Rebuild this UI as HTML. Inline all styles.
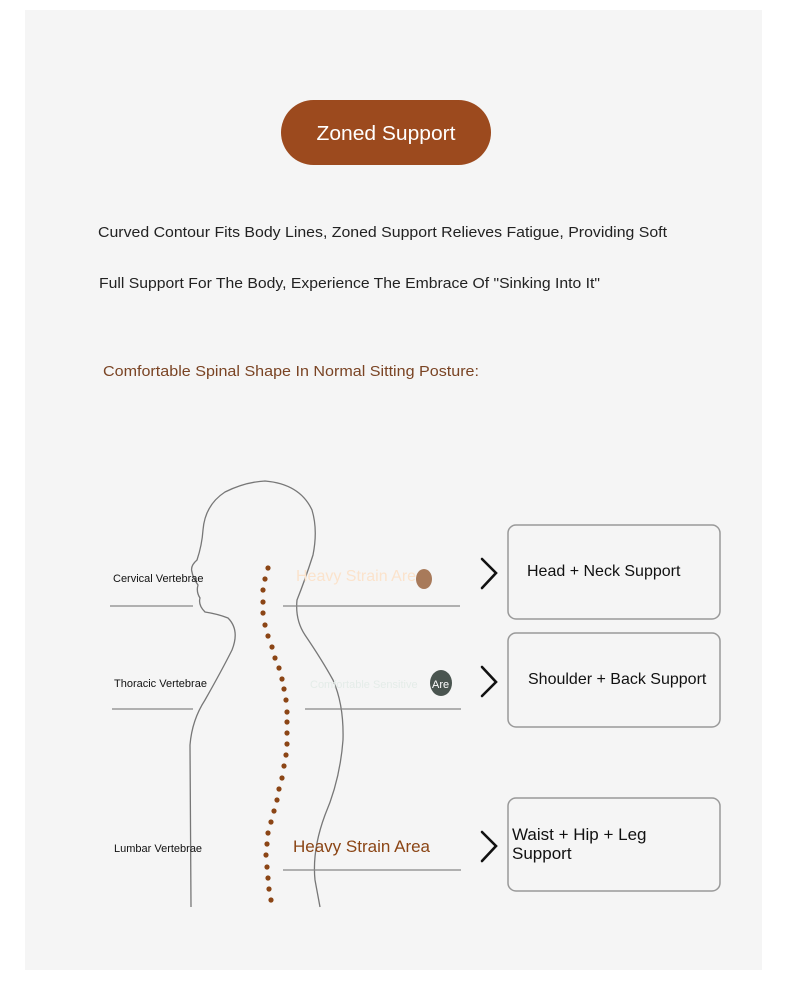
<!DOCTYPE html>
<html><head><meta charset="utf-8"><style>
html,body{margin:0;padding:0;background:#fff;}
svg{display:block;}
text{font-family:"Liberation Sans",sans-serif;}
</style></head><body>
<svg width="790" height="994" viewBox="0 0 790 994" xmlns="http://www.w3.org/2000/svg">
<rect x="0" y="0" width="790" height="994" fill="#ffffff"/>
<rect x="25" y="10" width="737" height="960" fill="#f5f5f5"/>
<rect x="281" y="100" width="210" height="65" rx="32.5" fill="#9c4a1e"/>
<text x="386" y="140" text-anchor="middle" font-size="20" fill="#fff" textLength="139" lengthAdjust="spacingAndGlyphs">Zoned Support</text>
<text x="98" y="237" font-size="15" fill="#222" textLength="569" lengthAdjust="spacingAndGlyphs">Curved Contour Fits Body Lines, Zoned Support Relieves Fatigue, Providing Soft</text>
<text x="99" y="288" font-size="15" fill="#222" textLength="501" lengthAdjust="spacingAndGlyphs">Full Support For The Body, Experience The Embrace Of "Sinking Into It"</text>
<text x="103" y="376" font-size="15" fill="#7a4424" textLength="376" lengthAdjust="spacingAndGlyphs">Comfortable Spinal Shape In Normal Sitting Posture:</text>

<g fill="none" stroke="#777" stroke-width="1.3">
<path d="M191,907 L190,745 Q192,720 205,700 Q222,670 232,650 Q240,630 228,618 Q218,614 205,612 Q198,605 200,598 Q196,592 198,585 Q193,578 192,572 Q190,566 197,560 Q202,545 203,530 Q205,505 225,492 Q245,482 265,481 Q300,484 312,510 Q318,530 313,555 Q305,580 297,600 Q295,620 305,635 Q322,660 333,680 Q344,705 343,740 Q340,780 325,815 Q312,850 315,880 L320,907"/>
</g>
<g fill="#8b4515">
<circle cx="268" cy="568" r="2.6"/><circle cx="265" cy="579" r="2.6"/><circle cx="263" cy="590" r="2.6"/><circle cx="263" cy="602" r="2.6"/><circle cx="263" cy="613" r="2.6"/><circle cx="265" cy="625" r="2.6"/><circle cx="268" cy="636" r="2.6"/><circle cx="272" cy="647" r="2.6"/><circle cx="275" cy="658" r="2.6"/><circle cx="279" cy="668" r="2.6"/><circle cx="282" cy="679" r="2.6"/><circle cx="284" cy="689" r="2.6"/><circle cx="286" cy="700" r="2.6"/><circle cx="287" cy="712" r="2.6"/><circle cx="287" cy="722" r="2.6"/><circle cx="287" cy="733" r="2.6"/><circle cx="287" cy="744" r="2.6"/><circle cx="286" cy="755" r="2.6"/><circle cx="284" cy="766" r="2.6"/><circle cx="282" cy="778" r="2.6"/><circle cx="279" cy="789" r="2.6"/><circle cx="277" cy="800" r="2.6"/><circle cx="274" cy="811" r="2.6"/><circle cx="271" cy="822" r="2.6"/><circle cx="268" cy="833" r="2.6"/><circle cx="267" cy="844" r="2.6"/><circle cx="266" cy="855" r="2.6"/><circle cx="267" cy="867" r="2.6"/><circle cx="268" cy="878" r="2.6"/><circle cx="269" cy="889" r="2.6"/><circle cx="271" cy="900" r="2.6"/>
</g>
<g stroke="#888" stroke-width="1.3">
<line x1="110" y1="606" x2="193" y2="606"/><line x1="283" y1="606" x2="460" y2="606"/>
<line x1="112" y1="709" x2="193" y2="709"/><line x1="305" y1="709" x2="461" y2="709"/>
<line x1="283" y1="870" x2="461" y2="870"/>
</g>
<text x="113" y="582" font-size="11" fill="#111">Cervical Vertebrae</text>
<text x="114" y="687" font-size="11" fill="#111">Thoracic Vertebrae</text>
<text x="114" y="852" font-size="11" fill="#111">Lumbar Vertebrae</text>
<text x="296" y="581" font-size="16" fill="#fbe3cc">Heavy Strain Area</text>
<ellipse cx="424" cy="579" rx="8" ry="10" fill="#a87a5a"/>
<text x="310" y="688" font-size="11" fill="#e4ece8">Comfortable Sensitive</text>
<ellipse cx="441" cy="683" rx="11" ry="13" fill="#4a5550"/>
<text x="432" y="688" font-size="11" fill="#fff">Are</text>
<text x="293" y="852" font-size="17" fill="#8b4515">Heavy Strain Area</text>
<g fill="none" stroke="#111" stroke-width="2.6" stroke-linecap="round">
<polyline points="482,559 496,573 482,588"/>
<polyline points="482,667 496,682 482,696"/>
<polyline points="482,832 496,846 482,861"/>
</g>
<g fill="none" stroke="#999" stroke-width="1.5">
<rect x="508" y="525" width="212" height="94" rx="8"/>
<rect x="508" y="633" width="212" height="94" rx="8"/>
<rect x="508" y="798" width="212" height="93" rx="8"/>
</g>
<text x="527" y="576" font-size="16" fill="#111">Head + Neck Support</text>
<text x="528" y="684" font-size="16" fill="#111">Shoulder + Back Support</text>
<text x="512" y="840" font-size="17" fill="#111">Waist + Hip + Leg</text>
<text x="512" y="859" font-size="17" fill="#111">Support</text>
</svg>
</body></html>
